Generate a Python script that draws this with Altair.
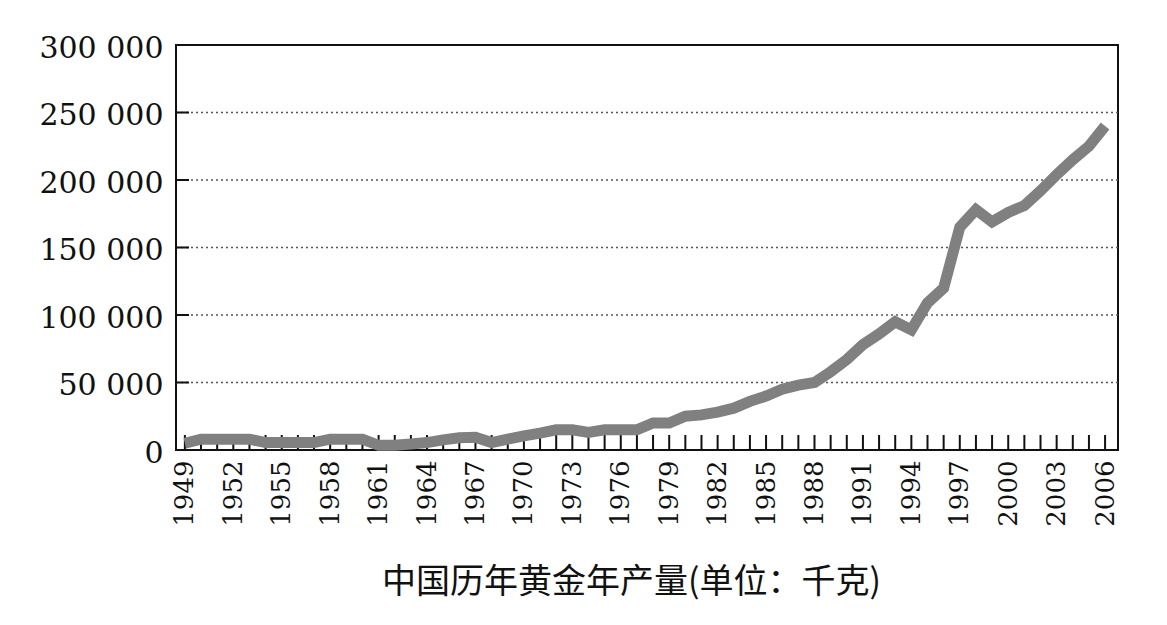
import altair as alt
import pandas as pd

years = list(range(1949, 2007))
output_kg = [
    5000, 8000, 8000, 8000, 8000, 5500, 5500, 5500, 5500, 8000,
    8000, 8000, 3500, 3500, 4500, 5500, 7500, 9000, 9500, 5500,
    8000, 10500, 12500, 15000, 15000, 13000, 15000, 15000, 15000, 20000,
    20000, 25000, 26000, 28000, 31000, 36000, 40000, 45000, 48000, 50000,
    58000, 67000, 78000, 86000, 95000, 89000, 109000, 120000, 165000, 178000,
    169000, 176000, 181000, 192000, 204000, 215000, 225000, 240000,
]
label_years = years[::3]
y_label_values = [0, 50000, 100000, 150000, 200000, 250000, 300000]
y_grid_values = [50000, 100000, 150000, 200000, 250000]
x_title = "中国历年黄金年产量(单位：千克)"

df = pd.DataFrame({"year": years, "kg": output_kg})
tick_df = pd.DataFrame({"year": years})
grid_df = pd.DataFrame({"v": y_grid_values})

W, H = 942, 405
xscale = alt.Scale(domain=[1948.45, 2006.8], nice=False, zero=False)
yscale = alt.Scale(domain=[0, 300000], nice=False, zero=True)

x_axis = alt.Axis(
    values=label_years, format="d", labelAngle=-90, ticks=False, domain=False,
    grid=False, labelFont="DejaVu Serif", labelFontSize=26, labelColor="#111",
    labelPadding=10, labelFlush=False, labelOverlap=False,
    title=x_title, titleFont="Noto Sans CJK SC", titleFontSize=34,
    titleFontWeight="normal", titleColor="#111", titleX=455, titleY=132,
    titleAlign="center", titleBaseline="middle", titleAnchor="start",
)
y_axis = alt.Axis(
    values=y_label_values, labelExpr="replace(format(datum.value, ','), ',', ' ')",
    ticks=False, domain=False, grid=False, labelFont="DejaVu Serif",
    labelFontSize=30, labelColor="#111", labelPadding=13, labelFlush=False,
    labelOverlap=False, labelBaseline="middle", labelOffset=3, title=None,
)

grid = alt.Chart(grid_df).mark_rule(color="#555", strokeWidth=1.5, strokeDash=[2, 3]).encode(
    y=alt.Y("v:Q", scale=yscale, axis=y_axis),
    x=alt.value(0), x2=alt.value(W),
)
ytick = alt.Chart(grid_df).mark_rule(color="#111", strokeWidth=2).encode(
    y=alt.Y("v:Q", scale=yscale),
    x=alt.value(0), x2=alt.value(13),
)
xtick = alt.Chart(tick_df).mark_rule(color="#111", strokeWidth=2).encode(
    x=alt.X("year:Q", scale=xscale, axis=x_axis),
    y=alt.value(H), y2=alt.value(H - 15),
)
line = alt.Chart(df).mark_line(
    color="#808080", strokeWidth=11, strokeJoin="miter", strokeCap="butt"
).encode(
    x=alt.X("year:Q", scale=xscale),
    y=alt.Y("kg:Q", scale=yscale),
)

chart = alt.layer(grid, ytick, xtick, line).properties(
    width=W, height=H,
    padding={"left": 176, "top": 45, "right": 49, "bottom": 175},
    autosize=alt.AutoSizeParams(type="none"),
    background="white",
).configure_view(stroke="#111", strokeWidth=2)

chart.save("out.html", embed_options={"renderer": "svg", "actions": False})
